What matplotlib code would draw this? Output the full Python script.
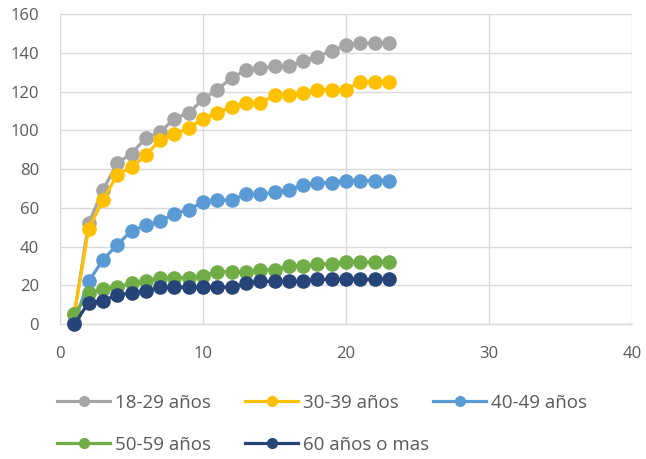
import matplotlib.pyplot as plt
from matplotlib.lines import Line2D

x = list(range(1, 24))
g18_29 = [5, 52, 69, 83, 88, 96, 99, 106, 109, 116, 121, 127, 131, 132, 133, 133, 136, 138, 141, 144, 145, 145, 145]
g30_39 = [5, 49, 64, 77, 81, 87, 95, 98, 101, 106, 109, 112, 114, 114, 118, 118, 119, 121, 121, 121, 125, 125, 125]
g40_49 = [1, 22, 33, 41, 48, 51, 53, 57, 59, 63, 64, 64, 67, 67, 68, 69, 72, 73, 73, 74, 74, 74, 74]
g50_59 = [5, 16, 18, 19, 21, 22, 24, 24, 24, 25, 27, 27, 27, 28, 28, 30, 30, 31, 31, 32, 32, 32, 32]
g60 = [0, 11, 12, 15, 16, 17, 19, 19, 19, 19, 19, 19, 21, 22, 22, 22, 22, 23, 23, 23, 23, 23, 23]

series = [
    ("18-29 años", g18_29, "#a5a5a5"),
    ("30-39 años", g30_39, "#ffc000"),
    ("40-49 años", g40_49, "#5b9bd5"),
    ("50-59 años", g50_59, "#70ad47"),
    ("60 años o mas", g60, "#264478"),
]

plt.rcParams["font.family"] = ["Open Sans", "DejaVu Sans"]

W, H = 646, 459
fig = plt.figure(figsize=(W / 100, H / 100), dpi=100)
ax = fig.add_axes([60 / W, 1 - 324 / H, 572 / W, 310 / H])

for label, vals, color in series:
    ax.plot(x, vals, color=color, linewidth=2.3, marker="o", markersize=9.5,
            label=label, clip_on=False, zorder=3)

ax.set_xlim(0, 40)
ax.set_ylim(0, 160)
ax.set_xticks(range(0, 41, 10))
ax.set_yticks(range(0, 161, 20))
ax.grid(True, color="#d9d9d9", linewidth=1.0)
ax.set_axisbelow(True)
for s in ["top", "right", "left"]:
    ax.spines[s].set_visible(False)
ax.spines["bottom"].set_color("#d9d9d9")
ax.spines["bottom"].set_linewidth(1.0)
ax.tick_params(length=0, colors="#595959", labelsize=12)
ax.tick_params(axis="y", pad=15)
ax.tick_params(axis="x", pad=16)

# legend entries laid out like the reference (row-major, 3 per row)
slots = [(57, 403), (245, 403), (433, 403), (57, 445), (245, 445)]
for (label, vals, color), (px, py) in zip(series, slots):
    h = Line2D([], [], color=color, linewidth=2.3, marker="o", markersize=7)
    fig.legend([h], [label], loc="center left", bbox_to_anchor=(px / W, 1 - py / H),
               frameon=False, borderpad=0, borderaxespad=0, fontsize=13.5,
               labelcolor="#595959", handlelength=2.85, handletextpad=0.25)

fig.savefig("out.png", dpi=100)
